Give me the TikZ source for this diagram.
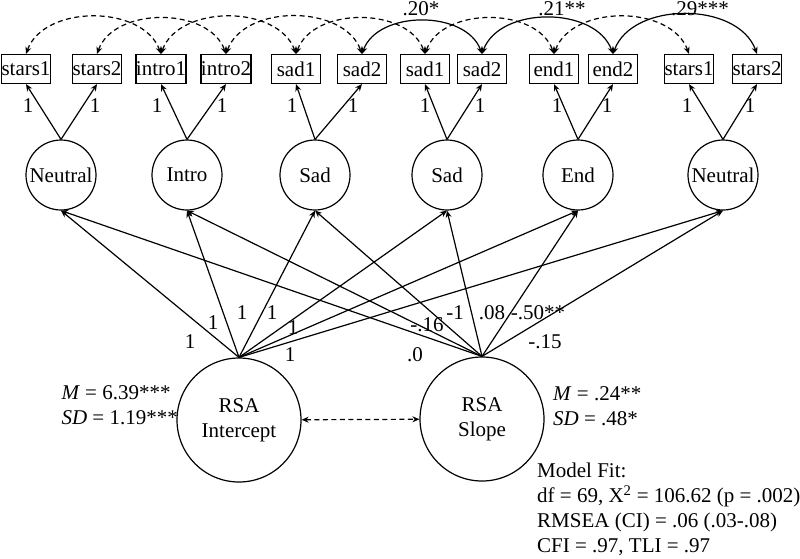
\documentclass[tikz,border=0pt]{standalone}
\usepackage{fontspec}
\setmainfont{Liberation Serif}
\usetikzlibrary{arrows.meta}
\tikzset{obs/.style = {draw, rectangle, line width = 1.2pt, minimum width = 49pt, minimum height = 29pt, inner sep = 0}}
\tikzset{lat/.style = {draw, circle, line width = 1.2pt, minimum size = 70pt, inner sep = 0}}
\tikzset{bigfac/.style = {draw, circle, line width = 1.2pt, minimum size = 124pt, inner sep = 0, align = center}}
\tikzset{reg/.style = {line width = 1.2pt, -{Stealth[length = 7pt, width = 6pt]}}}
\tikzset{cov/.style = {line width = 1.2pt, {Stealth[length = 7pt, width = 6pt]}-{Stealth[length = 7pt, width = 6pt]}}}
\tikzset{dsh/.style = {dash pattern = on 5pt off 3.5pt}}
\tikzset{lab/.style = {inner sep = 0}}

\begin{document}
\begin{tikzpicture}[x = 1pt, y = 1pt, every node/.style = {font = \fontsize{21}{25}\selectfont}]
    \useasboundingbox (0, 0) rectangle (800, -558);

    % indicators
    \node [obs] (st1a) at (26, -69) {stars1};
    \node [obs] (st2a) at (97, -69) {stars2};
    \node [obs] (in1) at (161, -69) {intro1};
    \node [obs] (in2) at (226, -69) {intro2};
    \node [obs] (sa1a) at (296, -69) {sad1};
    \node [obs] (sa2a) at (362, -69) {sad2};
    \node [obs] (sa1b) at (425, -69) {sad1};
    \node [obs] (sa2b) at (482, -69) {sad2};
    \node [obs] (en1) at (554, -69) {end1};
    \node [obs] (en2) at (613, -69) {end2};
    \node [obs] (st1b) at (689, -69) {stars1};
    \node [obs] (st2b) at (757, -69) {stars2};

    % occasions
    \node [lat] (neuA) at (61, -175) {Neutral};
    \node [lat] (intro) at (187, -175) {Intro};
    \node [lat] (sadA) at (315, -175) {Sad};
    \node [lat] (sadB) at (447, -175) {Sad};
    \node [lat] (endl) at (578, -175) {End};
    \node [lat] (neuB) at (723, -175) {Neutral};

    % growth factors
    \node [bigfac] (ri) at (239, -420) {RSA\\Intercept};
    \node [bigfac] (rs) at (482, -419) {RSA\\Slope};

    \draw [reg] (neuA.north) -- (st1a.south);
    \draw [reg] (neuA.north) -- (st2a.south);
    \draw [reg] (intro.north) -- (in1.south);
    \draw [reg] (intro.north) -- (in2.south);
    \draw [reg] (sadA.north) -- (sa1a.south);
    \draw [reg] (sadA.north) -- (sa2a.south);
    \draw [reg] (sadB.north) -- (sa1b.south);
    \draw [reg] (sadB.north) -- (sa2b.south);
    \draw [reg] (endl.north) -- (en1.south);
    \draw [reg] (endl.north) -- (en2.south);
    \draw [reg] (neuB.north) -- (st1b.south);
    \draw [reg] (neuB.north) -- (st2b.south);

    \foreach \f in {neuA, intro, sadA, sadB, endl, neuB} {
        \draw [reg] (ri.north) -- (\f.south);
        \draw [reg] (rs.north) -- (\f.south);
    }

    % residual covariances
    \draw [cov, dsh] (st1a.north) to [out = 70, in = 110] (in1.north);
    \draw [cov, dsh] (st2a.north) to [out = 70, in = 110] (in2.north);
    \draw [cov, dsh] (in1.north) to [out = 70, in = 110] (sa1a.north);
    \draw [cov, dsh] (in2.north) to [out = 70, in = 110] (sa2a.north);
    \draw [cov, dsh] (sa1a.north) to [out = 70, in = 110] (sa1b.north);
    \draw [cov, dsh] (sa1b.north) to [out = 70, in = 110] (en1.north);
    \draw [cov, dsh] (en1.north) to [out = 70, in = 110] (st1b.north);
    \draw [cov] (sa2a.north) to [out = 70, in = 110] (sa2b.north);
    \draw [cov] (sa2b.north) to [out = 70, in = 110] (en2.north);
    \draw [cov] (en2.north) to [out = 70, in = 110] (st2b.north);

    \draw [cov, dsh] (ri) -- (rs);

    \node [lab, anchor = base] (c1) at (421, -15) {.20*};
    \node [lab, anchor = base] (c2) at (562, -15) {.21**};
    \node [lab, anchor = base] (c3) at (700, -15) {.29***};

    % loadings
    \foreach \x [count = \i] in {28, 95, 157, 222, 292, 353, 425, 480, 557, 607, 687, 750}
        \node [lab] (ld\i) at (\x, -106) {1};

    \foreach \x/\y/\t [count = \i] in {190/342/1, 213/323/1, 242/313/1, 272/313/1, 293/328/1, 290/355/1}
        \node [lab] (li\i) at (\x, -\y) {\t};

    \foreach \x/\y/\t [count = \i] in {415/355/.0, 427/325/-.16, 455/313/-1, 492/313/.08, 538/313/-.50**, 545/342/-.15}
        \node [lab] (ls\i) at (\x, -\y) {\t};

    \node [lab, anchor = east, align = left] (msi) at (178, -405) {\textit{M} = 6.39***\\\textit{SD} = 1.19***};
    \node [lab, anchor = west, align = left] (mss) at (553, -406) {\textit{M} = .24**\\\textit{SD} = .48*};

    \node [lab, anchor = north west, align = left] (fit) at (537, -463) {Model Fit:\\df = 69, X\textsuperscript{2} = 106.62 (p = .002)\\ RMSEA (CI) = .06 (.03-.08)\\CFI = .97, TLI = .97};
\end{tikzpicture}
\end{document}
